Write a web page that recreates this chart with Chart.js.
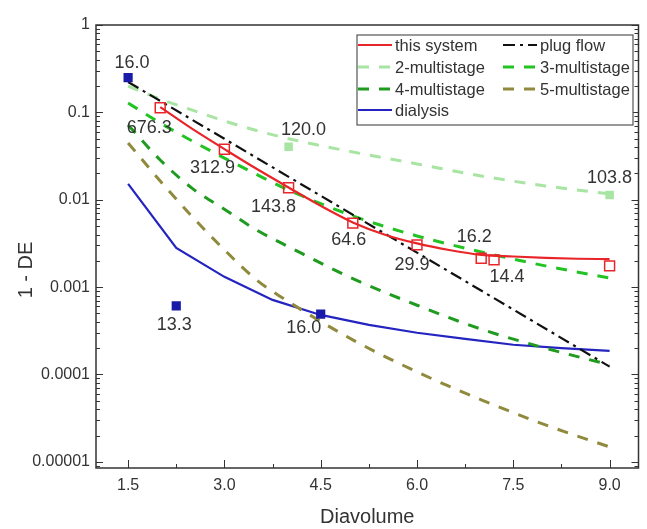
<!DOCTYPE html>
<html><head><meta charset="utf-8">
<script src="https://cdn.jsdelivr.net/npm/chart.js@4.4.1/dist/chart.umd.min.js"></script>
<style>html,body{margin:0;padding:0;background:#fff}canvas{display:block}</style>
</head><body>
<canvas id="c" width="647" height="529"></canvas>
<script>
// ---------- data ----------
const xTicks = [1.5, 3.0, 4.5, 6.0, 7.5, 9.0];
const yTicks = [0.00001, 0.0001, 0.001, 0.01, 0.1, 1];
const yTickLabels = ['0.00001', '0.0001', '0.001', '0.01', '0.1', '1'];
const xTitle = 'Diavolume';
const yTitle = '1 - DE';

// this system: measured points and fitted curve
const sysX = [2.0, 3.0, 4.0, 5.0, 6.0, 7.0, 7.2, 9.0];
const sysY = [0.113, 0.0378, 0.0137, 0.0054, 0.00304, 0.00214, 0.00205, 0.00175];
const sysLabels = ['676.3', '312.9', '143.8', '64.6', '29.9', '16.2', '14.4', ''];
const sysFitX = [2.0, 2.5, 3.0, 3.5, 4.0, 4.5, 5.0, 5.5, 6.0, 6.5, 7.0, 7.5, 8.0, 8.5, 9.0];
const sysFitY = [0.1148, 0.0646, 0.0380, 0.0226, 0.0138, 0.00851, 0.0055, 0.00398, 0.00316, 0.00266, 0.00234, 0.00224, 0.00216, 0.00211, 0.00209];

// plug flow
const plugX = [1.5, 3.0, 4.5, 6.0, 7.5, 9.0];
const plugY = [0.223, 0.0498, 0.0111, 0.00248, 0.000553, 0.000123];

// multistage curves
const msX = [1.5, 2.0, 2.5, 3.0, 3.5, 4.0, 5.0, 6.0, 7.0, 8.0, 9.0];
const ms2Y = [0.20, 0.142, 0.106, 0.0797, 0.062, 0.050, 0.0352, 0.0257, 0.0187, 0.0144, 0.01165];
const ms3Y = [0.128, 0.0757, 0.047, 0.030, 0.0195, 0.0129, 0.00653, 0.00385, 0.00253, 0.00175, 0.00127];
const ms4Y = [0.0718, 0.0285, 0.0135, 0.0078, 0.0045, 0.0029, 0.00125, 0.00062, 0.00033, 0.0002, 0.000129];
const ms5Y = [0.0447, 0.0164, 0.0064, 0.00267, 0.00121, 0.00068, 0.000249, 0.000107, 0.0000513, 0.0000265, 0.0000148];
const ms2PtsX = [4.0, 9.0];
const ms2PtsY = [0.0405, 0.01135];
const ms2Labels = ['120.0', '103.8'];

// dialysis
const dialX = [1.5, 2.25, 3.0, 3.75, 4.5, 5.25, 6.0, 6.75, 7.5, 8.25, 9.0];
const dialY = [0.0152, 0.00281, 0.00131, 0.000714, 0.00048, 0.00037, 0.0003, 0.000255, 0.000219, 0.0002, 0.000186];
const dialPtsX = [1.5, 2.25, 4.5];
const dialPtsY = [0.25, 0.00061, 0.00049];
const dialLabels = ['16.0', '13.3', '16.0'];

// ---------- styles ----------
const FONT = '"Liberation Sans", Arial, sans-serif';
const TXT = '#333333';
const C = {
  red: '#e8262a', black: '#111111', g2: '#a8e4a2', g3: '#22c322',
  g4: '#1f9b1f', g5: '#8f8a3c', blue: '#2424c0', blueDark: '#1a1aa8'
};
// label offsets (pixels) for each labelled point set
const sysLabelOff = [[-11, 20], [-12, 19], [-15, 19], [-4, 17], [-5, 20], [-7, -21], [13, 17], [0, 0]];
const ms2LabelOff = [[15, -17], [0, -17]];
const dialLabelOff = [[4, -15], [-2, 19], [-17, 14]];

const pts = (xs, ys) => xs.map((x, i) => ({ x, y: ys[i] }));

const datasets = [
  { label: 'sysPts', data: pts(sysX, sysY), showLine: false, pointStyle: 'rect', pointRadius: 7,
    borderColor: C.red, backgroundColor: 'rgba(255,255,255,0)', pointBorderWidth: 1.5 },
  { label: 'dialPts', data: pts(dialPtsX, dialPtsY), showLine: false, pointStyle: 'rect', pointRadius: 6.5,
    borderColor: C.blueDark, backgroundColor: C.blueDark, pointBorderWidth: 0 },
  { label: 'ms2Pts', data: pts(ms2PtsX, ms2PtsY), showLine: false, pointStyle: 'rect', pointRadius: 6,
    borderColor: C.g2, backgroundColor: C.g2, pointBorderWidth: 0 },
  { label: 'this system', data: pts(sysFitX, sysFitY), showLine: true, pointRadius: 0, borderColor: C.red, borderWidth: 2.2, cubicInterpolationMode: 'monotone', leg: [0, 0] },
  { label: 'plug flow', data: pts(plugX, plugY), showLine: true, pointRadius: 0, borderColor: C.black, borderWidth: 2.2, borderDash: [12, 5, 3, 5], leg: [1, 0] },
  { label: '2-multistage', data: pts(msX, ms2Y), showLine: true, pointRadius: 0, borderColor: C.g2, borderWidth: 3, borderDash: [11, 10], cubicInterpolationMode: 'monotone', leg: [0, 1] },
  { label: '3-multistage', data: pts(msX, ms3Y), showLine: true, pointRadius: 0, borderColor: C.g3, borderWidth: 3, borderDash: [11, 10], cubicInterpolationMode: 'monotone', leg: [1, 1] },
  { label: '4-multistage', data: pts(msX, ms4Y), showLine: true, pointRadius: 0, borderColor: C.g4, borderWidth: 3, borderDash: [11, 10], cubicInterpolationMode: 'monotone', leg: [0, 2] },
  { label: '5-multistage', data: pts(msX, ms5Y), showLine: true, pointRadius: 0, borderColor: C.g5, borderWidth: 3, borderDash: [11, 10], cubicInterpolationMode: 'monotone', leg: [1, 2] },
  { label: 'dialysis', data: pts(dialX, dialY), showLine: true, pointRadius: 0, borderColor: C.blue, borderWidth: 2.2, tension: 0, leg: [0, 3] }
];

const decor = {
  id: 'decor',
  afterDatasetsDraw(chart) {
    const { ctx, chartArea: a, scales: { x, y } } = chart;
    ctx.save();
    // data labels
    ctx.font = '18px ' + FONT;
    ctx.fillStyle = TXT;
    ctx.textAlign = 'center';
    ctx.textBaseline = 'middle';
    const lab = (xs, ys, ls, offs) => xs.forEach((v, i) => {
      if (!ls[i]) return;
      ctx.fillText(ls[i], x.getPixelForValue(v) + offs[i][0], y.getPixelForValue(ys[i]) + offs[i][1]);
    });
    lab(sysX, sysY, sysLabels, sysLabelOff);
    lab(ms2PtsX, ms2PtsY, ms2Labels, ms2LabelOff);
    lab(dialPtsX, dialPtsY, dialLabels, dialLabelOff);

    // y axis title
    ctx.save();
    ctx.font = '20px ' + FONT;
    ctx.translate(26, 270);
    ctx.rotate(-Math.PI / 2);
    ctx.fillText(yTitle, 0, 0);
    ctx.restore();

    // ticks (inward)
    ctx.strokeStyle = '#333';
    ctx.lineWidth = 1;
    const seg = (x1, y1, x2, y2) => { ctx.beginPath(); ctx.moveTo(x1, y1); ctx.lineTo(x2, y2); ctx.stroke(); };
    xTicks.forEach(v => { const p = Math.round(x.getPixelForValue(v)) + 0.5; seg(p, a.bottom, p, a.bottom - 8); });
    for (let i = 0; i < xTicks.length; i++) {
      const v = xTicks[i] + 0.75;
      if (v < x.max) { const p = Math.round(x.getPixelForValue(v)) + 0.5; seg(p, a.bottom, p, a.bottom - 4); }
    }
    for (let d = -6; d <= 0; d++) {
      for (let k = 1; k <= 9; k++) {
        const v = k * Math.pow(10, d);
        if (v < y.min || v > y.max) continue;
        const p = Math.round(y.getPixelForValue(v)) + 0.5;
        const len = k === 1 ? 7 : 4;
        seg(a.left, p, a.left + len, p);
        seg(a.right, p, a.right - len, p);
      }
    }
    // frame
    ctx.lineWidth = 1.5;
    ctx.strokeStyle = '#333';
    ctx.strokeRect(a.left, a.top, a.right - a.left, a.bottom - a.top);

    // legend
    const L = { x: 357, y: 35, w: 276, h: 90 };
    ctx.fillStyle = '#fff';
    ctx.fillRect(L.x, L.y, L.w, L.h);
    ctx.strokeStyle = '#555';
    ctx.lineWidth = 1.2;
    ctx.strokeRect(L.x, L.y, L.w, L.h);
    ctx.font = '16.5px ' + FONT;
    ctx.textAlign = 'left';
    ctx.fillStyle = TXT;
    const colX = [358, 503], rowY = [45, 67, 89, 110];
    chart.data.datasets.forEach(ds => {
      if (!ds.leg) return;
      const cx = colX[ds.leg[0]], cy = rowY[ds.leg[1]];
      ctx.save();
      ctx.strokeStyle = ds.borderColor;
      ctx.lineWidth = ds.borderWidth;
      ctx.setLineDash(ds.borderDash || []);
      seg(cx, cy, cx + 34, cy);
      ctx.restore();
      ctx.fillText(ds.label, cx + 37, cy + 1);
    });
    ctx.restore();
  }
};

new Chart(document.getElementById('c'), {
  type: 'scatter',
  data: { datasets },
  options: {
    responsive: false,
    animation: false,
    events: [],
    layout: { padding: { top: 25, right: 5, left: 0, bottom: 0 } },
    plugins: { legend: { display: false }, tooltip: { enabled: false } },
    scales: {
      x: {
        type: 'linear', min: 1.0, max: 9.45,
        grid: { display: false, drawTicks: false },
        border: { display: false },
        afterBuildTicks: s => { s.ticks = xTicks.map(v => ({ value: v })); },
        afterFit: s => { s.height = 61; },
        ticks: { color: TXT, font: { family: FONT, size: 16 }, padding: 8, maxRotation: 0,
          callback: v => Number(v).toFixed(1) },
        title: { display: true, text: xTitle, color: TXT, font: { family: FONT, size: 20 }, padding: 0 }
      },
      y: {
        type: 'logarithmic', min: 0.0000085, max: 1,
        grid: { display: false, drawTicks: false },
        border: { display: false },
        afterBuildTicks: s => { s.ticks = yTicks.map(v => ({ value: v })); },
        afterFit: s => { s.width = 96; },
        ticks: { color: TXT, font: { family: FONT, size: 16 }, padding: 6,
          callback: (v, i) => yTickLabels[i] },
        title: { display: false }
      }
    }
  },
  plugins: [decor]
});
</script>
</body></html>
